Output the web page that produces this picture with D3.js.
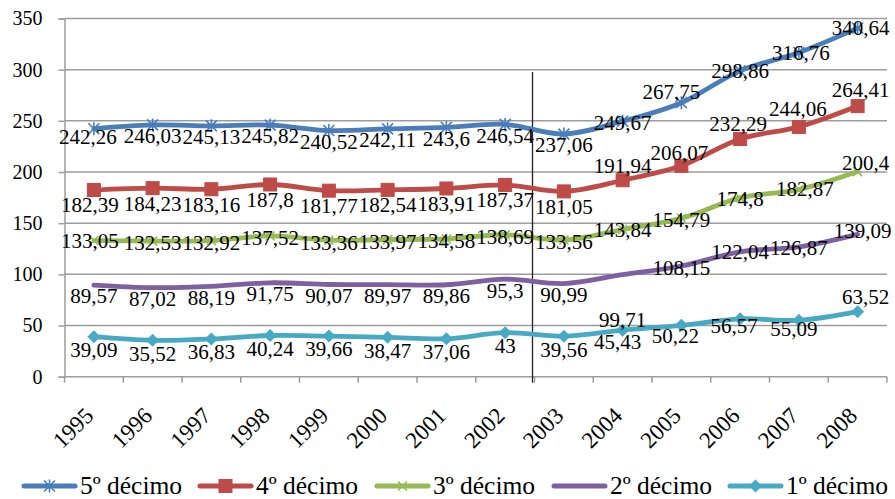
<!DOCTYPE html>
<html>
<head>
<meta charset="utf-8">
<script src="https://cdn.jsdelivr.net/npm/d3@7"></script>
<style>
  html, body { margin: 0; padding: 0; background: #fff; }
</style>
</head>
<body>
<svg id="chart" width="895" height="499"></svg>
<script>
// Years on the category axis
const years = ["1995","1996","1997","1998","1999","2000","2001","2002","2003","2004","2005","2006","2007","2008"];

// Income by décimo
const decimo5 = [242.26, 246.03, 245.13, 245.82, 240.52, 242.11, 243.6, 246.54, 237.06, 249.67, 267.75, 298.86, 316.76, 340.64];
const decimo4 = [182.39, 184.23, 183.16, 187.8, 181.77, 182.54, 183.91, 187.37, 181.05, 191.94, 206.07, 232.29, 244.06, 264.41];
const decimo3 = [133.05, 132.53, 132.92, 137.52, 133.36, 133.97, 134.58, 138.69, 133.56, 143.84, 154.79, 174.8, 182.87, 200.4];
const decimo2 = [89.57, 87.02, 88.19, 91.75, 90.07, 89.97, 89.86, 95.3, 90.99, 99.71, 108.15, 122.04, 126.87, 139.09];
const decimo1 = [39.09, 35.52, 36.83, 40.24, 39.66, 38.47, 37.06, 43, 39.56, 45.43, 50.22, 56.57, 55.09, 63.52];

const seriesNames = ["5º décimo", "4º décimo", "3º décimo", "2º décimo", "1º décimo"];
const yTicks = [0, 50, 100, 150, 200, 250, 300, 350];

// Styling per series
const colors = ["#4A7EBB", "#BE4B48", "#98B954", "#7D60A0", "#46AAC5"];
const markers = ["star", "square", "cross", "none", "diamond"];
const FONT = '"Liberation Serif", "Times New Roman", serif';

// Label placement relative to each point: [dx, dy] of the label centre
function labelNudges(base, overrides) {
  return years.map((_, i) => overrides[i] || [0, base]);
}
const nudges = [
  labelNudges(11, {0: [-6, 8], 9: [0, 1], 10: [-10, -11], 11: [0, 0], 12: [2, 0], 13: [3, 0]}),
  labelNudges(15, {0: [-4, 15], 9: [0, -15], 10: [-2, -13], 11: [-2, -15], 12: [-1, -18], 13: [3, -16]}),
  labelNudges(2,  {0: [-4, 0], 9: [0, 0], 10: [0, 1], 11: [0, 1], 12: [6, -1], 13: [8, -9]}),
  labelNudges(11, {9: [0, 45], 10: [0, 2], 11: [0, 0], 12: [0, 1], 13: [5, -4]}),
  labelNudges(13, {9: [-5, 11], 10: [-6, 10], 11: [-6, 7], 12: [-5, 8], 13: [8, -15]})
];

const allSeries = [decimo5, decimo4, decimo3, decimo2, decimo1];

const svg = d3.select("#chart");
const plot = { left: 64.5, right: 887, top: 18.5, bottom: 376.7 };

const x = d3.scaleBand().domain(years).range([plot.left, plot.right]).padding(0);
const y = d3.scaleLinear().domain([0, 350]).range([plot.bottom, plot.top]);
const cx = d => x(d) + x.bandwidth() / 2;

// Horizontal gridlines
svg.append("g").selectAll("line").data(yTicks.filter(t => t > 0)).join("line")
  .attr("x1", plot.left).attr("x2", plot.right)
  .attr("y1", d => y(d)).attr("y2", d => y(d))
  .attr("stroke", "#9D9D9D").attr("stroke-width", 1.5);

// Y axis
const yAxis = svg.append("g").attr("transform", `translate(${plot.left},0)`)
  .call(d3.axisLeft(y).tickValues(yTicks).tickSize(6).tickPadding(16));
yAxis.attr("font-family", null);
yAxis.select(".domain").attr("stroke", "#9D9D9D").attr("stroke-width", 1.5);
yAxis.selectAll(".tick line").attr("stroke", "#9D9D9D").attr("stroke-width", 1.5);
yAxis.selectAll(".tick text").attr("font-size", 20).style("font-family", FONT).attr("fill", "#000");

// X axis: ticks at category boundaries
const xg = svg.append("g");
xg.append("line").attr("x1", plot.left).attr("x2", plot.right)
  .attr("y1", plot.bottom).attr("y2", plot.bottom)
  .attr("stroke", "#9D9D9D").attr("stroke-width", 1.5);
const boundaries = years.map(d => x(d)).concat([plot.right]);
xg.selectAll("line.tk").data(boundaries).join("line").attr("class", "tk")
  .attr("x1", d => d).attr("x2", d => d)
  .attr("y1", plot.bottom).attr("y2", plot.bottom + 6)
  .attr("stroke", "#9D9D9D").attr("stroke-width", 1.5);
xg.selectAll("text").data(years).join("text")
  .attr("transform", d => `translate(${cx(d) + 1},417) rotate(-45)`)
  .attr("text-anchor", "end")
  .style("font-family", FONT)
  .attr("font-size", 23)
  .attr("fill", "#000")
  .text(d => d);

// Divider before 2003
svg.append("line")
  .attr("x1", x("2003") - 2).attr("x2", x("2003") - 2)
  .attr("y1", 72).attr("y2", plot.bottom + 6)
  .attr("stroke", "#222").attr("stroke-width", 1.3);

// Marker drawing
function drawMarker(g, type, color, size) {
  const s = size;
  if (type === "square") {
    g.append("rect").attr("x", -s / 2).attr("y", -s / 2).attr("width", s).attr("height", s)
      .attr("fill", color).attr("stroke", color).attr("stroke-width", 1);
  } else if (type === "diamond") {
    const h = s / 2 + 1;
    g.append("path").attr("d", `M0,${-h}L${h},0L0,${h}L${-h},0Z`).attr("fill", color);
  } else if (type === "cross") {
    const h = s / 2;
    g.append("path").attr("d", `M${-h},${-h}L${h},${h}M${-h},${h}L${h},${-h}`)
      .attr("stroke", color).attr("stroke-width", 1.6).attr("fill", "none");
  } else if (type === "star") {
    const h = s / 2;
    g.append("path").attr("d", `M${-h},${-h}L${h},${h}M${-h},${h}L${h},${-h}M0,${-h - 1}L0,${h + 1}`)
      .attr("stroke", color).attr("stroke-width", 1.6).attr("fill", "none");
  }
}
const markerSize = { star: 11, square: 13, cross: 9, diamond: 11, none: 0 };

const line = d3.line().x((d, i) => cx(years[i])).y(d => y(d)).curve(d3.curveCatmullRom.alpha(0.5));

// Lines and markers
allSeries.forEach((vals, si) => {
  const g = svg.append("g");
  g.append("path").datum(vals).attr("d", line)
    .attr("fill", "none").attr("stroke", colors[si]).attr("stroke-width", 4.8)
    .attr("stroke-linejoin", "round").attr("stroke-linecap", "round");
  if (markers[si] !== "none") {
    vals.forEach((v, i) => {
      const m = g.append("g").attr("transform", `translate(${cx(years[i])},${y(v)})`);
      drawMarker(m, markers[si], colors[si], markerSize[markers[si]]);
    });
  }
});

// Data labels (comma decimal separator)
const fmt = v => String(v).replace(".", ",");
allSeries.forEach((vals, si) => {
  svg.append("g").selectAll("text").data(vals).join("text")
    .attr("x", (v, i) => cx(years[i]) + nudges[si][i][0])
    .attr("y", (v, i) => y(v) + nudges[si][i][1])
    .attr("dy", "0.35em")
    .attr("text-anchor", "middle")
    .style("font-family", FONT)
    .attr("font-size", 21)
    .attr("fill", "#000")
    .text(fmt);
});

// Legend
const legendX = [22, 198, 375, 552, 728];
const legendY = 486;
const lg = svg.append("g");
seriesNames.forEach((name, si) => {
  const g = lg.append("g").attr("transform", `translate(${legendX[si]},${legendY})`);
  g.append("line").attr("x1", 2).attr("x2", 53).attr("y1", 0).attr("y2", 0)
    .attr("stroke", colors[si]).attr("stroke-width", 5).attr("stroke-linecap", "round");
  if (markers[si] !== "none") {
    const m = g.append("g").attr("transform", "translate(27.5,0)");
    drawMarker(m, markers[si], colors[si], markerSize[markers[si]]);
  }
  g.append("text").attr("x", 58).attr("y", 8).style("font-family", FONT)
    .attr("font-size", 25.5).attr("fill", "#000").text(name);
});
</script>
</body>
</html>
